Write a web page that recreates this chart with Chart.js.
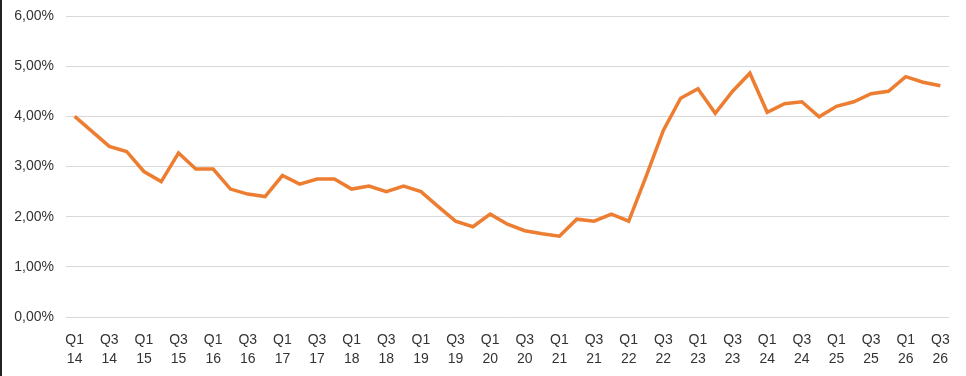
<!DOCTYPE html>
<html>
<head>
<meta charset="utf-8">
<script src="https://cdn.jsdelivr.net/npm/chart.js@4"></script>
<style>
  html, body { margin: 0; padding: 0; background: #fff; }
  #wrap { position: relative; width: 966px; height: 376px; box-sizing: border-box; border-left: 2px solid #222; }
</style>
</head>
<body>
<div id="wrap"><canvas id="rate-chart" width="964" height="376"></canvas></div>
<script>
// quarters Q1 2014 .. Q3 2026
const quarters = ["Q1","Q2","Q3","Q4"];
const years = ["14","15","16","17","18","19","20","21","22","23","24","25","26"];

const categories = [];
years.forEach(y => quarters.forEach(q => categories.push([q, y])));
categories.length = 51; // stop at Q3 26

const rateValues = [
  4.00, 3.70, 3.40, 3.30, 2.90, 2.70, 3.27, 2.95,
  2.95, 2.55, 2.45, 2.40, 2.82, 2.65, 2.75, 2.75,
  2.55, 2.61, 2.50, 2.61, 2.50, 2.20, 1.91, 1.80,
  2.05, 1.85, 1.72, 1.66, 1.61, 1.95, 1.91, 2.05,
  1.91, 2.80, 3.72, 4.36, 4.55, 4.06, 4.50, 4.86,
  4.08, 4.25, 4.29, 3.99, 4.20, 4.29, 4.45, 4.50,
  4.79, 4.68, 4.61
];

const yTicks = [0, 1, 2, 3, 4, 5, 6];

const ctx = document.getElementById("rate-chart");
new Chart(ctx.getContext("2d"), {
  type: "line",
  data: {
    labels: categories,
    datasets: [{
      data: rateValues,
      borderColor: "#ED7D31",
      borderWidth: 3.5,
      pointRadius: 0,
      fill: false,
      tension: 0
    }]
  },
  options: {
    responsive: false,
    animation: false,
    layout: { padding: { top: 16, right: 17, left: 0, bottom: 0 } },
    plugins: { legend: { display: false }, tooltip: { enabled: false } },
    scales: {
      x: {
        offset: true,
        afterFit: s => { s.height = 59; },
        grid: { display: false },
        border: { display: false },
        ticks: {
          autoSkip: false,
          maxRotation: 0,
          padding: 6,
          color: "#333",
          font: { family: "Liberation Sans", size: 14, lineHeight: 1.35 },
          callback: (v, i) => (i % 2 === 0 ? categories[i] : "")
        }
      },
      y: {
        min: yTicks[0],
        max: yTicks[yTicks.length - 1],
        afterFit: s => { s.width = 64; s.paddingTop = 0; s.paddingBottom = 0; },
        afterBuildTicks: s => { s.ticks = yTicks.map(v => ({ value: v })); },
        grid: { color: "#d9d9d9", lineWidth: 1, drawTicks: false },
        border: { display: false },
        ticks: {
          padding: 12,
          color: "#333",
          font: { family: "Liberation Sans", size: 14 },
          callback: v => v.toFixed(2).replace(".", ",") + "%"
        }
      }
    }
  }
});
</script>
</body>
</html>
